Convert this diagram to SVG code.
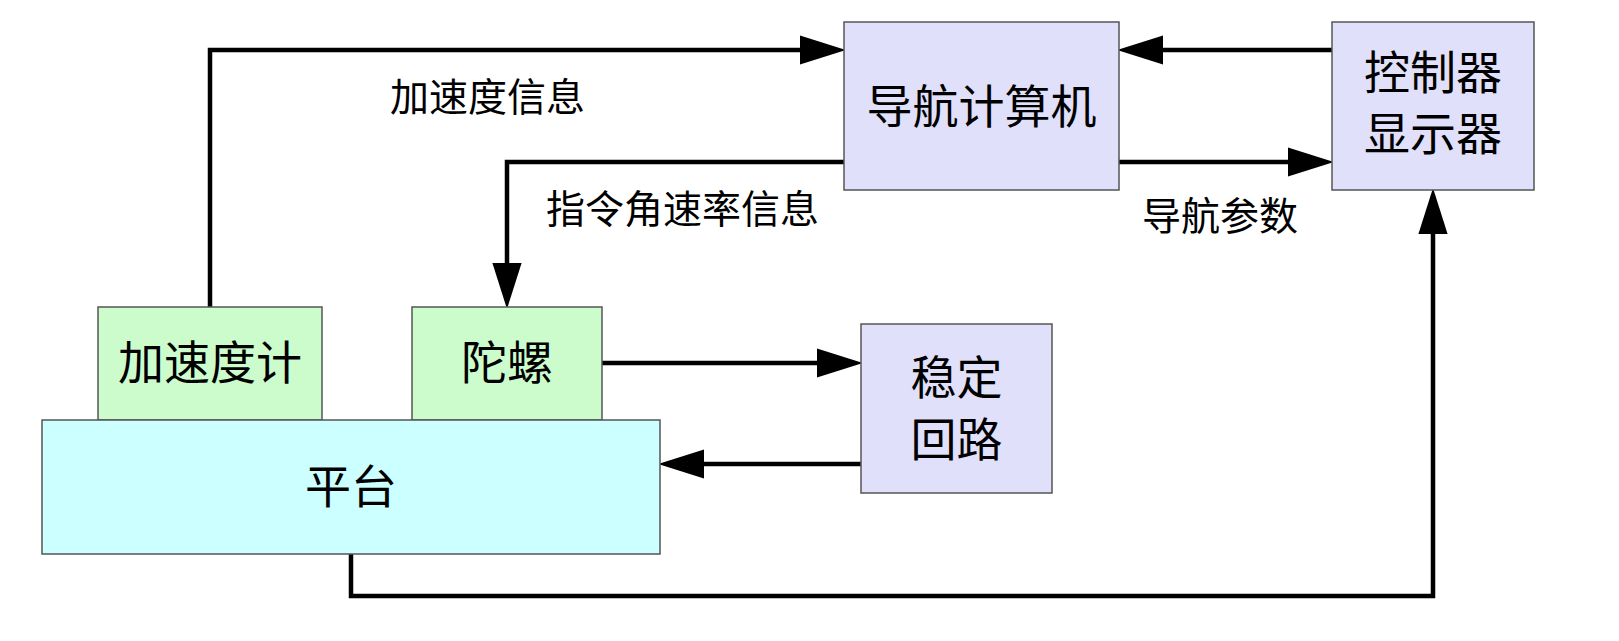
<svg xmlns="http://www.w3.org/2000/svg" width="1619" height="641" viewBox="0 0 1619 641">
<style>
.box{stroke:#555;stroke-width:1.5}
.nav{fill:#e0e0fa}
.grn{fill:#ccfccc}
.cyn{fill:#ccffff}
.big{font-family:"Noto Sans CJK SC","Noto Sans",sans-serif;font-size:46px;fill:#000;text-anchor:middle}
.lbl{font-family:"Noto Sans CJK SC","Noto Sans",sans-serif;font-size:39px;fill:#000}
.ln{fill:none;stroke:#000;stroke-width:4.5;stroke-linejoin:miter}
</style>
<defs>
<marker id="ah" markerUnits="userSpaceOnUse" markerWidth="46" markerHeight="30" refX="2" refY="14" orient="auto" viewBox="0 0 44 28">
<path d="M0,0 L44,14 L0,28 z" fill="#000"/>
</marker>
</defs>
<rect width="1619" height="641" fill="#fff"/>
<g id="connectors">
<path class="ln" d="M210,307 L210,50 L802,50" marker-end="url(#ah)"/>
<path class="ln" d="M844,162 L507,162 L507,265" marker-end="url(#ah)"/>
<path class="ln" d="M1332,50 L1161,50" marker-end="url(#ah)"/>
<path class="ln" d="M1119,162 L1290,162" marker-end="url(#ah)"/>
<path class="ln" d="M602,363 L819,363" marker-end="url(#ah)"/>
<path class="ln" d="M861,464 L702,464" marker-end="url(#ah)"/>
<path class="ln" d="M351,554 L351,596 L1433,596 L1433,232" marker-end="url(#ah)"/>
<text class="lbl" x="390" y="111">加速度信息</text>
<text class="lbl" x="546" y="223">指令角速率信息</text>
<text class="lbl" x="1142" y="230">导航参数</text>
</g>
<g id="nav-computer">
<rect class="box nav" x="844" y="22" width="275" height="168"/>
<text class="big" x="981.5" y="122.5">导航计算机</text>
</g>
<g id="controller-display">
<rect class="box nav" x="1332" y="22" width="202" height="168"/>
<text class="big" x="1433" y="88.5">控制器</text>
<text class="big" x="1433" y="150">显示器</text>
</g>
<g id="accelerometer">
<rect class="box grn" x="98" y="307" width="224" height="113"/>
<text class="big" x="210" y="379">加速度计</text>
</g>
<g id="gyro">
<rect class="box grn" x="412" y="307" width="190" height="113"/>
<text class="big" x="507" y="379">陀螺</text>
</g>
<g id="platform">
<rect class="box cyn" x="42" y="420" width="618" height="134"/>
<text class="big" x="351" y="502.5">平台</text>
</g>
<g id="stabilization-loop">
<rect class="box nav" x="861" y="324" width="191" height="169"/>
<text class="big" x="956.5" y="393.5">稳定</text>
<text class="big" x="956.5" y="455.5">回路</text>
</g>
</svg>
